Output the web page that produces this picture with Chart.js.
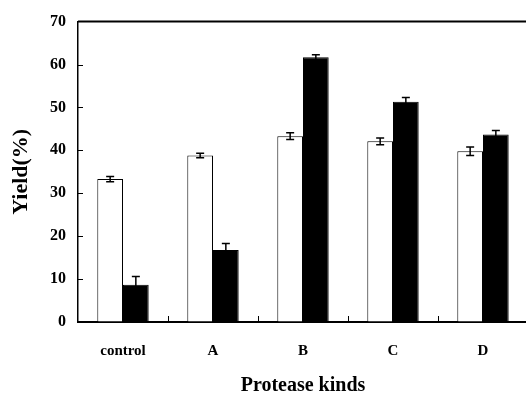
<!DOCTYPE html>
<html>
<head>
<meta charset="UTF-8">
<title>Protease kinds</title>
<style>
  body { margin: 0; overflow: hidden; background: #fff; }
</style>
</head>
<body>
	<script src="https://cdn.jsdelivr.net/npm/chart.js"></script>

	<!-- 528 wide so the last category runs just past the 526 window, like the reference -->
	<canvas id="barChart" width="528" height="396"></canvas>

	<script>
		// data
		const categories = ['control', 'A', 'B', 'C', 'D'];
		const whiteValues = [33.3, 38.8, 43.3, 42.1, 39.8];
		const whiteErrors = [0.6, 0.5, 0.8, 0.8, 1.0];
		const blackValues = [8.7, 16.8, 61.7, 51.3, 43.7];
		const blackErrors = [1.9, 1.5, 0.6, 1.0, 0.9];
		const yMin = 0;
		const yMax = 70;
		const yStep = 10;

		const fontFamily = '"Liberation Serif", "Times New Roman", serif';

		// error bars, inward ticks and the top frame line
		const decorPlugin = {
			id: 'decor',
			afterDatasetsDraw(chart) {
				const ctx = chart.ctx;
				const area = chart.chartArea;
				const xs = chart.scales.x;
				const ys = chart.scales.y;
				const errors = [whiteErrors, blackErrors];

				ctx.save();
				ctx.strokeStyle = '#000';

				// error bars
				ctx.lineWidth = 1.5;
				chart.data.datasets.forEach(function(ds, i) {
					const meta = chart.getDatasetMeta(i);
					meta.data.forEach(function(bar, j) {
						const v = ds.data[j];
						const e = errors[i][j];
						const yTop = ys.getPixelForValue(v + e);
						const yBot = ys.getPixelForValue(v - e);
						ctx.beginPath();
						ctx.moveTo(bar.x, yTop);
						ctx.lineTo(bar.x, yBot);
						ctx.moveTo(bar.x - 4, yTop);
						ctx.lineTo(bar.x + 4, yTop);
						ctx.moveTo(bar.x - 4, yBot);
						ctx.lineTo(bar.x + 4, yBot);
						ctx.stroke();
					});
				});

				// y ticks pointing into the plot
				ctx.lineWidth = 1;
				for (let v = yMin + yStep; v < yMax; v += yStep) {
					const y = Math.round(ys.getPixelForValue(v)) + 0.5;
					ctx.beginPath();
					ctx.moveTo(area.left, y);
					ctx.lineTo(area.left + 5, y);
					ctx.stroke();
				}

				// x ticks between categories, pointing up
				for (let i = 0; i < categories.length - 1; i++) {
					const x = Math.round((xs.getPixelForValue(i) + xs.getPixelForValue(i + 1)) / 2) + 0.5;
					ctx.beginPath();
					ctx.moveTo(x, area.bottom);
					ctx.lineTo(x, area.bottom - 6);
					ctx.stroke();
				}

				// top frame line
				ctx.lineWidth = 2;
				ctx.beginPath();
				ctx.moveTo(area.left, area.top);
				ctx.lineTo(area.right, area.top);
				ctx.stroke();

				ctx.restore();
			}
		};

		const ctx = document.getElementById('barChart').getContext('2d');
		const barChart = new Chart(ctx, {
			type: 'bar',
			data: {
				labels: categories,
				datasets: [{
					label: 'white',
					data: whiteValues,
					backgroundColor: '#fff',
					borderColor: '#000',
					borderWidth: 1,
					categoryPercentage: 0.571,
					barPercentage: 1.0
				}, {
					label: 'black',
					data: blackValues,
					backgroundColor: '#000',
					borderColor: '#000',
					borderWidth: 1,
					categoryPercentage: 0.571,
					barPercentage: 1.0
				}]
			},
			options: {
				responsive: false,
				animation: false,
				layout: {
					padding: { top: 17, left: 0, right: 0, bottom: 0 }
				},
				plugins: {
					legend: { display: false },
					tooltip: { enabled: false }
				},
				scales: {
					x: {
						grid: { display: false },
						border: { display: true, color: '#000', width: 2 },
						ticks: {
							color: '#000',
							padding: 12,
							maxRotation: 0,
							font: { family: fontFamily, size: 15, weight: 'bold' }
						},
						title: {
							display: true,
							text: 'Protease kinds',
							color: '#000',
							padding: { top: 0, bottom: 0 },
							font: { family: fontFamily, size: 20, weight: 'bold', lineHeight: 1 }
						},
						afterFit: function(scale) { scale.height = 74; }
					},
					y: {
						min: yMin,
						max: yMax,
						grid: { drawOnChartArea: false, drawTicks: false },
						border: { display: true, color: '#000', width: 1.5 },
						ticks: {
							stepSize: yStep,
							color: '#000',
							padding: 12,
							font: { family: fontFamily, size: 16, weight: 'bold' }
						},
						title: {
							display: true,
							text: 'Yield(%)',
							color: '#000',
							padding: { top: 10, bottom: 0 },
							font: { family: fontFamily, size: 22, weight: 'bold', lineHeight: 1 }
						},
						afterFit: function(scale) { scale.width = 78; }
					}
				}
			},
			plugins: [decorPlugin]
		});
	</script>
</body>
</html>
